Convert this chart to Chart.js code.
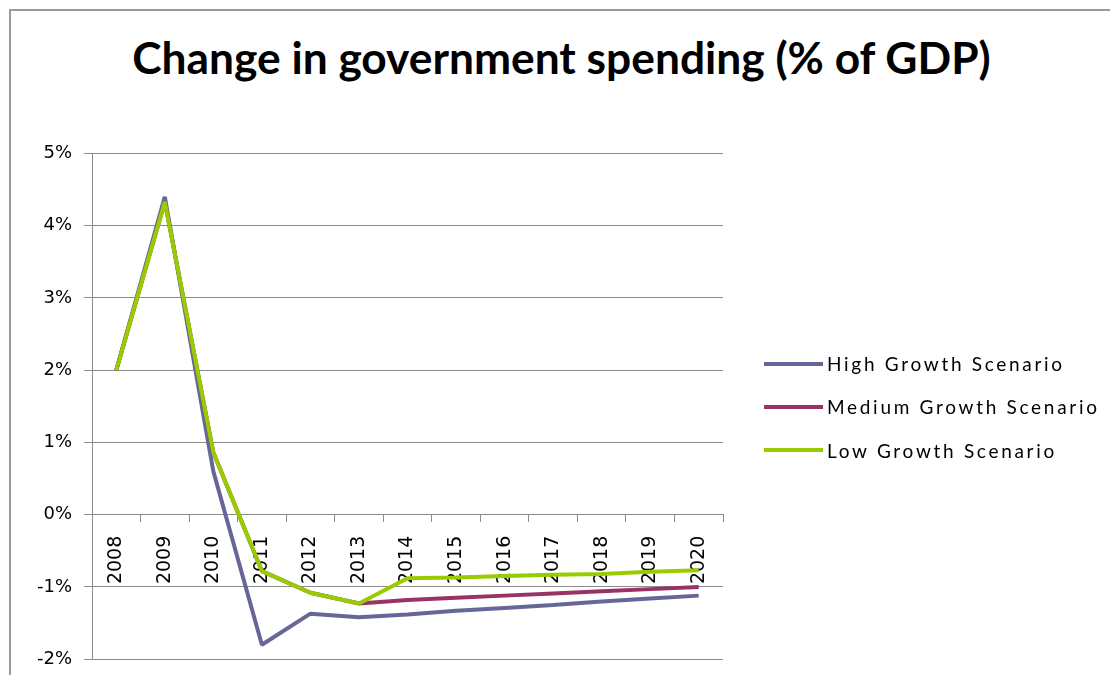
<!DOCTYPE html>
<html>
<head>
<meta charset="utf-8">
<title>Change in government spending</title>
<script src="https://cdn.jsdelivr.net/npm/chart.js@4.4.1/dist/chart.umd.min.js"></script>
<style>
  html, body { margin: 0; padding: 0; background: #fff; overflow: hidden; }
  body { width: 1110px; height: 675px; position: relative; }
  #frame { position: absolute; left: 9px; top: 9px; width: 1200px; height: 800px;
           border-left: 2px solid #9a9a9a; border-top: 2px solid #9a9a9a; }
  #chart { position: absolute; left: 11px; top: 11px; }
  #title { position: absolute; left: 0; top: 30px; width: 1123px; text-align: center;
           font: bold 44.3px Lato, sans-serif; color: #000; }
  #legend { position: absolute; left: 764px; top: 342px; font: 19px Lato, sans-serif;
            letter-spacing: 2.7px; color: #000; }
  #legend .item { display: flex; align-items: center; height: 43.3px; }
  #legend .swatch { width: 59px; height: 4px; margin-right: 4px; }
</style>
</head>
<body>
<div id="frame"></div>
<div id="title">Change in government spending (% of GDP)</div>
<!-- canvas runs a little past the window bottom, like the framed chart -->
<canvas id="chart" width="1104" height="671"></canvas>
<div id="legend"></div>
<script>
// Anos e cenários (% do PIB)
const years = ['2008','2009','2010','2011','2012','2013','2014','2015','2016','2017','2018','2019','2020'];
const highGrowth   = [2.0, 4.40, 0.60, -1.80, -1.37, -1.42, -1.38, -1.33, -1.29, -1.25, -1.20, -1.16, -1.12];
const mediumGrowth = [2.0, 4.33, 0.86, -0.78, -1.08, -1.23, -1.18, -1.15, -1.12, -1.09, -1.06, -1.03, -1.00];
const lowGrowth    = [2.0, 4.33, 0.86, -0.78, -1.08, -1.23, -0.88, -0.87, -0.85, -0.83, -0.82, -0.79, -0.77];
const seriesNames  = ['High Growth Scenario', 'Medium Growth Scenario', 'Low Growth Scenario'];
const yMin = -2, yMax = 5, yStep = 1;

const cores = ['#666699', '#993366', '#99cc00'];
const cinza = '#8c8c8c';

const series = [highGrowth, mediumGrowth, lowGrowth];

new Chart(document.getElementById('chart'), {
  type: 'line',
  data: {
    labels: years,
    datasets: series.map((d, i) => ({
      label: seriesNames[i],
      data: d,
      borderColor: cores[i],
      backgroundColor: cores[i],
      borderWidth: 4,
      borderJoinStyle: 'bevel',
      pointRadius: 0,
      tension: 0,
      order: series.length - i   // low growth on top
    }))
  },
  options: {
    responsive: false,
    animation: false,
    layout: { padding: { left: 0, right: 392, top: 142.5, bottom: 0 } },
    plugins: {
      legend: { display: false },
      tooltip: { enabled: false },
      title: { display: false }
    },
    scales: {
      y: {
        min: yMin, max: yMax,
        afterFit: s => { s.width = 81; },
        ticks: { stepSize: yStep, callback: v => v + '%', color: '#000',
                 font: { family: 'DejaVu Sans', size: 18 }, padding: 12 },
        grid: { color: cinza, tickLength: 8 },
        border: { color: cinza }
      },
      x: {
        position: { y: 0 },   // eixo das categorias cruza no 0%
        z: 1,                 // rótulos por cima das linhas
        offset: true,
        grid: { offset: true, drawOnChartArea: false, tickLength: 7, color: cinza },
        border: { color: cinza },
        ticks: { minRotation: 90, maxRotation: 90, autoSkip: false, color: '#000',
                 font: { family: 'DejaVu Sans', size: 19 }, padding: 14 }
      }
    }
  }
});

// Legenda
const leg = document.getElementById('legend');
seriesNames.forEach((nome, i) => {
  const row = document.createElement('div');
  row.className = 'item';
  row.innerHTML = `<span class="swatch" style="background:${cores[i]}"></span><span>${nome}</span>`;
  leg.appendChild(row);
});
</script>
</body>
</html>
